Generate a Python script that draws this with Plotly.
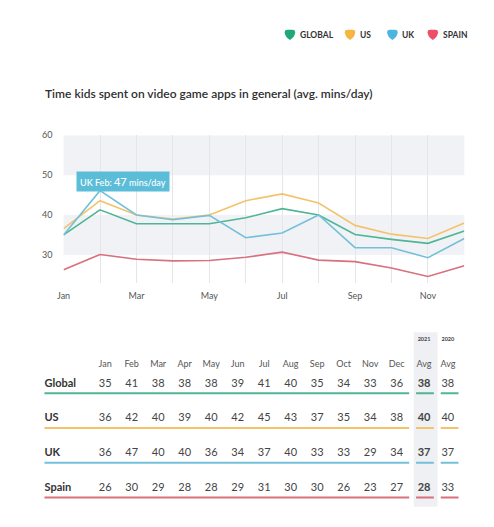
import plotly.graph_objects as go

# page body keeps its default 8px margin, so the figure is drawn 8px in from the corner
OX, OY = 8, 8
W, H = 478, 511

# chart lines (avg mins/day)
months = ["Jan", "Feb", "Mar", "Apr", "May", "Jun", "Jul", "Aug", "Sep", "Oct", "Nov", "Dec"]
global_line = [35.0, 41.3, 37.8, 37.8, 37.8, 39.3, 41.6, 40.0, 35.1, 33.9, 32.9, 36.0]
us_line = [36.6, 43.6, 40.0, 39.0, 40.0, 43.6, 45.3, 43.0, 37.4, 35.2, 34.1, 38.0]
uk_line = [35.0, 46.1, 40.0, 38.8, 39.9, 34.3, 35.5, 40.0, 31.8, 31.8, 29.3, 34.1]
spain_line = [26.3, 30.1, 28.9, 28.5, 28.6, 29.4, 30.7, 28.7, 28.3, 26.7, 24.6, 27.3]

# table values
row_names = ["Global", "US", "UK", "Spain"]
global_table = [35, 41, 38, 38, 38, 39, 41, 40, 35, 34, 33, 36]
us_table = [36, 42, 40, 39, 40, 42, 45, 43, 37, 35, 34, 38]
uk_table = [36, 47, 40, 40, 36, 34, 37, 40, 33, 33, 29, 34]
spain_table = [26, 30, 29, 28, 28, 29, 31, 30, 30, 26, 23, 27]
avg_2021 = [38, 40, 37, 28]
avg_2020 = [38, 40, 37, 33]

legend_names = ["GLOBAL", "US", "UK", "SPAIN"]
icon_colors = ["#1fa97b", "#f5b741", "#4db6e0", "#ee4f66"]
line_colors = ["#4fb596", "#f3c36c", "#74c0da", "#d8707d"]
FONT = "Lato"


def px(x):
    # screen x (reference pixels) -> paper
    return (x - OX) / W


def py(y):
    # screen y (reference pixels) -> paper
    return (H - (y - OY)) / H


fig = go.Figure()

# --- line chart ---
series = [("Spain", spain_line, 3), ("US", us_line, 1), ("Global", global_line, 0), ("UK", uk_line, 2)]
for name, vals, ci in series:
    fig.add_trace(go.Scatter(x=list(range(12)), y=vals, mode="lines", name=name,
                             line=dict(color=line_colors[ci], width=1.6),
                             showlegend=False, hoverinfo="skip"))

# alternating bands
for y0, y1 in [(50, 60), (30, 40)]:
    fig.add_shape(type="rect", xref="x domain", yref="y", x0=0, x1=1, y0=y0, y1=y1,
                  fillcolor="#f1f2f5", line_width=0, layer="below")

fig.add_annotation(x=1, y=uk_line[1], xref="x", yref="y", showarrow=False,
                   text="UK Feb: <span style='font-size:11px'>%d</span> mins/day" % uk_table[1],
                   font=dict(family=FONT, size=9, color="white", weight=500),
                   bgcolor="#5bbdd8", borderpad=3, xshift=23, yshift=9)

# --- table ---
# x2: one unit per month column, y2: one unit per row
col_x = list(range(12)) + [12.03, 12.93]
label_x = -2.29
tables = [global_table, us_table, uk_table, spain_table]
X2_LO, X2_HI, COLW, COL0 = -2.5, 13.5, 26.9, 99.5
Y2_LO, Y2_HI, ROWH, ROW0 = -1.6, 3.7, 35.13, 382.3

fig.add_shape(type="rect", xref="x2", yref="y2", x0=11.64, x1=12.54, y0=-1.49, y1=3.54,
              fillcolor="#eef0f3", line_width=0, layer="below")

fig.add_trace(go.Scatter(x=col_x, y=[-0.56] * 14, xaxis="x2", yaxis="y2", mode="text",
                         text=months + ["Avg", "Avg"], showlegend=False, hoverinfo="skip",
                         cliponaxis=False,
                         textfont=dict(family=FONT, size=9, color="#555")))
fig.add_trace(go.Scatter(x=col_x[12:], y=[-1.27] * 2, xaxis="x2", yaxis="y2", mode="text",
                         text=["<b>2021</b>", "<b>2020</b>"], showlegend=False, hoverinfo="skip",
                         cliponaxis=False,
                         textfont=dict(family=FONT, size=5.5, color="#444")))

for r, (name, vals) in enumerate(zip(row_names, tables)):
    cells = [str(v) for v in vals] + ["<b>%d</b>" % avg_2021[r], str(avg_2020[r])]
    fig.add_trace(go.Scatter(x=col_x, y=[r] * 14, xaxis="x2", yaxis="y2", mode="text",
                             text=cells, showlegend=False, hoverinfo="skip", cliponaxis=False,
                             textfont=dict(family=FONT, size=11, color="#444")))
    fig.add_trace(go.Scatter(x=[label_x], y=[r], xaxis="x2", yaxis="y2", mode="text",
                             text=["<b>%s</b>" % name], textposition="middle right",
                             showlegend=False, hoverinfo="skip", cliponaxis=False,
                             textfont=dict(family=FONT, size=11, color="#333")))
    for x0, x1 in [(label_x, 11.47), (11.73, 12.40), (12.66, 13.33)]:
        fig.add_shape(type="line", xref="x2", yref="y2", x0=x0, x1=x1, y0=r + 0.27, y1=r + 0.27,
                      line=dict(color=line_colors[r], width=2))

# --- legend (custom icons) ---
icon_x = [287, 348, 391, 432]
for cx, name, col in zip(icon_x, legend_names, icon_colors):
    cy = 29
    hw = 5.3
    pts = [(cx - hw, cy - 2.5), (cx - hw, cy - 5), (cx - 2.5, cy - 5), (cx + 2.5, cy - 5),
           (cx + hw, cy - 5), (cx + hw, cy - 2.5), (cx + hw, cy + 2), (cx, cy + 5.2),
           (cx - hw, cy + 2)]
    p = [(px(a), py(b)) for a, b in pts]
    path = ("M %f,%f Q %f,%f %f,%f L %f,%f Q %f,%f %f,%f Q %f,%f %f,%f Q %f,%f %f,%f Z"
            % (p[0] + p[1] + p[2] + p[3] + p[4] + p[5] + p[6] + p[7] + p[8] + p[0]))
    fig.add_shape(type="path", xref="paper", yref="paper", path=path,
                  fillcolor=col, line_width=0)
    fig.add_annotation(x=px(cx + 8), y=py(cy), xref="paper", yref="paper", showarrow=False,
                       text="<b>%s</b>" % name, xanchor="left", yanchor="middle",
                       font=dict(family=FONT, size=8.5, color="#333"))

fig.add_annotation(x=px(36), y=py(88), xref="paper", yref="paper", showarrow=False,
                   text="Time kids spent on video game apps in general (avg. mins/day)",
                   xanchor="left", yanchor="middle",
                   font=dict(family=FONT, size=12, color="#2f2f2f", weight=600))

fig.update_layout(
    width=W, height=H,
    margin=dict(l=0, r=0, t=0, b=0),
    paper_bgcolor="white", plot_bgcolor="white",
    font=dict(family=FONT),
    xaxis=dict(domain=[px(57.3), px(464)], range=[0, 11], tickvals=list(range(12)),
               ticktext=[m if i % 2 == 0 else "" for i, m in enumerate(months)],
               showgrid=True, gridcolor="#e6e6e9", gridwidth=1, zeroline=False,
               showline=False, ticks="", ticklabelstandoff=6,
               tickfont=dict(family=FONT, size=9, color="#555"), fixedrange=True),
    yaxis=dict(domain=[py(280), py(130.7)], range=[23, 60], tickvals=[30, 40, 50, 60],
               showgrid=False, zeroline=False, showline=False, ticks="",
               ticklabelstandoff=10, tickfont=dict(family=FONT, size=9, color="#555"),
               fixedrange=True),
    xaxis2=dict(domain=[px(COL0 + X2_LO * COLW), px(COL0 + X2_HI * COLW)],
                range=[X2_LO, X2_HI], anchor="y2", visible=False, fixedrange=True),
    yaxis2=dict(domain=[py(ROW0 + Y2_HI * ROWH), py(ROW0 + Y2_LO * ROWH)],
                range=[Y2_HI, Y2_LO], anchor="x2", visible=False, fixedrange=True),
)

fig.write_html("out.html")
